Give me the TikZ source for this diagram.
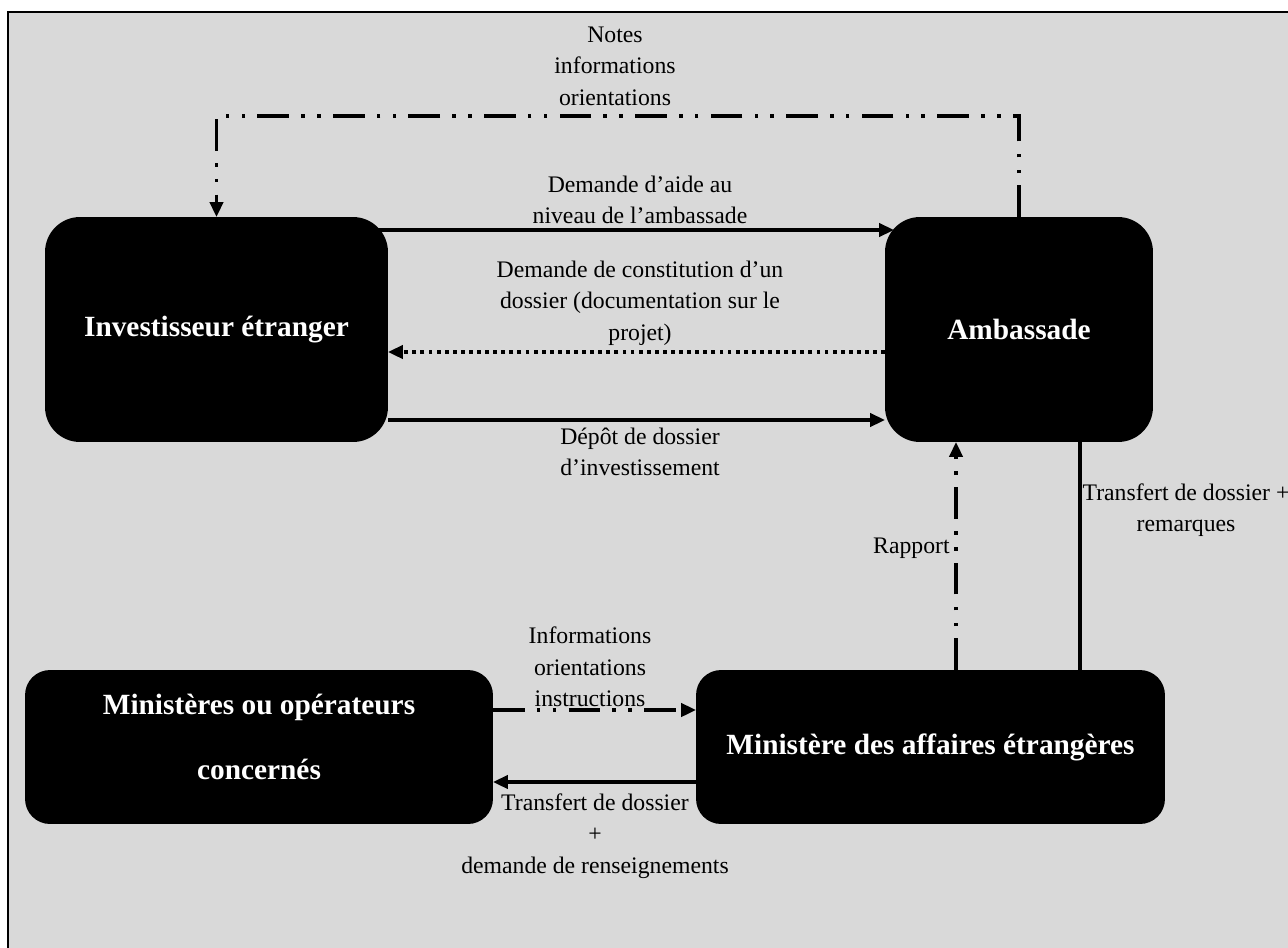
\documentclass[tikz,border=0pt]{standalone}
\usepackage{fontspec}
\setmainfont{Liberation Serif}
\usetikzlibrary{calc}
\usetikzlibrary{arrows.meta}
\tikzset{
	box/.style={fill=black, text=white, inner sep=0pt, outer sep=0pt, align=center, font=\bfseries\fontsize{16.7}{20}\selectfont},
	lbl/.style={align=center, inner sep=0pt, font=\fontsize{13.5}{17.9}\selectfont},
	arrowtip/.style={-{Triangle[length=8.5pt,width=7.5pt]}},
	solidline/.style={line width=1.9pt},
	dotline/.style={line width=2pt, dash pattern=on 2.2pt off 2.4pt},
	dashdots/.style={line width=2pt, dash pattern=on 18pt off 7pt on 2pt off 7pt on 2pt off 7pt},
}

\begin{document}
\begin{tikzpicture}[x=0.02cm, y=-0.02cm]
	\clip (0,0) rectangle (1288,947);

	% frame.....................
	\fill [black!15] (8,12) rectangle (1300,960);
	\draw [line width=1.2pt] (8,960) -- (8,12) -- (1300,12);

	% boxes.....................
	\node [box, rounded corners=0.7cm, minimum width=6.86cm, minimum height=4.5cm] (investor) at (216.5,329.5) {Investisseur étranger};
	\node [box, rounded corners=0.7cm, minimum width=5.36cm, minimum height=4.5cm] (embassy) at (1019,329.5) {Ambassade};
	\node [box, rounded corners=0.5cm, minimum width=9.36cm, minimum height=3.08cm, text depth=11.5pt, font=\bfseries\fontsize{16.7}{37}\selectfont] (others) at (259,747) {Ministères ou opérateurs\\concernés};
	\node [box, rounded corners=0.5cm, minimum width=9.38cm, minimum height=3.08cm] (ministry) at (930.5,747) {Ministère des affaires étrangères};

	% embassy -> investor, top loop.............
	\draw [dashdots, arrowtip] (embassy.north) -- ++(0,-101) -| (investor.north);
	\node [lbl] (notes) at (615,66) {Notes\\informations\\orientations};

	% investor <-> embassy.......................
	\draw [solidline, arrowtip] ($(investor.east |- 0,230)+(-10,0)$) -- ($(embassy.west |- 0,230)+(9,0)$);
	\node [lbl] (help) at (640,200) {Demande d’aide au\\niveau de l’ambassade};

	\draw [dotline, arrowtip] (embassy.west |- 0,352) -- (investor.east |- 0,352);
	\node [lbl] (file) at (640,303) {Demande de constitution d’un\\dossier (documentation sur le\\projet)};

	\draw [solidline, arrowtip] (investor.east |- 0,420) -- (embassy.west |- 0,420);
	\node [lbl] (deposit) at (640,452) {Dépôt de dossier\\d’investissement};

	% embassy <-> ministry.......................
	\draw [dashdots, arrowtip] (ministry.north -| 956,0) -- (embassy.south -| 956,0);
	\node [lbl, anchor=east] (report) at (950,548) {Rapport};

	\draw [line width=2pt] (embassy.south -| 1080,0) -- (ministry.north -| 1080,0);
	\node [lbl] (transfer) at (1186,510) {Transfert de dossier +\\remarques};

	% ministry <-> others........................
	\draw [dashdots, arrowtip] (others.east |- 0,710) -- (ministry.west |- 0,710);
	\node [lbl] (info) at (590,667) {Informations\\orientations\\instructions};

	\draw [solidline, arrowtip] (ministry.west |- 0,782) -- (others.east |- 0,782);
	\node [lbl] (request) at (595,836) {Transfert de dossier\\+\\demande de renseignements};
\end{tikzpicture}
\end{document}
